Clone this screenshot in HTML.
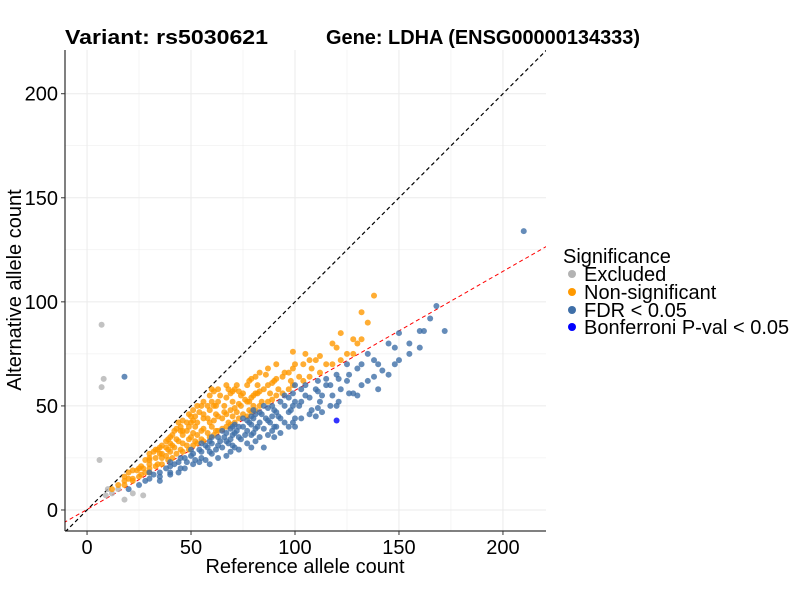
<!DOCTYPE html>
<html><head><meta charset="utf-8"><style>
body{margin:0;background:#fff;font-family:"Liberation Sans",Arial,sans-serif}
svg text{font-family:"Liberation Sans",Arial,sans-serif}
</style></head><body>
<svg id="chart" width="800" height="600" viewBox="0 0 800 600" xmlns="http://www.w3.org/2000/svg">
<g id="grid"></g>
<g id="lines"></g>
<g id="points"></g>
<g id="axes"></g>
<text x="65" y="44" font-size="20" font-weight="bold" textLength="203" lengthAdjust="spacingAndGlyphs">Variant: rs5030621</text>
<text x="326" y="44" font-size="20" font-weight="bold" textLength="314" lengthAdjust="spacingAndGlyphs">Gene: LDHA (ENSG00000134333)</text>
<text x="305" y="573" font-size="20" text-anchor="middle">Reference allele count</text>
<text transform="translate(21,290) rotate(-90)" font-size="20" text-anchor="middle">Alternative allele count</text>
<g>
<text x="563" y="263" font-size="20">Significance</text>
<g><circle cx="572" cy="274" r="4" fill="#b3b3b3"/><text x="584" y="281" font-size="20">Excluded</text></g>
<g><circle cx="572" cy="292" r="4" fill="#ff9900"/><text x="584" y="299" font-size="20">Non-significant</text></g>
<g><circle cx="572" cy="310" r="4" fill="#3f6fa8"/><text x="584" y="317" font-size="20">FDR &lt; 0.05</text></g>
<g><circle cx="572" cy="327" r="4" fill="#0000ff"/><text x="584" y="334" font-size="20">Bonferroni P-val &lt; 0.05</text></g>
</g>
</svg>
<script>
const xTicks=[0,50,100,150,200];
const yTicks=[0,50,100,150,200];
const oRef=[12,15,18,20,22,25,25,28,30,30,32,34,35,36,38,38,40,40,42,42,44,45,45,46,48,48,50,50,52,52,54,55,55,56,58,58,60,60,62,62,64,65,65,66,68,68,70,70,72,72,74,75,75,76,78,78,80,80,82,84,85,86,88,90,92,95,98,100,102,105,108,110,115,120,125,130,135,138,60,55,50,45,40,35,48,52,58,62,66,70,74,78,82,44,38,34,30,27,24,20];
const oAlt=[10,12,14,18,15,20,16,24,22,18,28,22,30,25,33,26,35,28,38,30,33,40,29,36,42,31,45,35,40,33,47,38,34,44,50,37,52,40,46,38,55,44,39,50,58,42,52,45,60,47,50,56,46,53,62,48,55,50,60,52,58,65,56,62,58,66,62,70,64,75,68,72,70,78,75,80,90,103,58,50,42,38,32,27,38,45,44,50,47,57,55,52,56,42,30,29,25,20,19,15];
const oRef2=[30,30,30,33,33,33,36,36,36,39,39,39,41,41,41,43,43,43,46,46,46,46,49,49,49,49,51,51,51,51,53,53,53,53,56,56,56,56,59,59,59,59,61,61,61,61,63,63,63,63,67,67,67,67,69,69,69,71,71,71,73,73,73,77,77,77,79,79,79,81,81,81,83,83,83,87,87,87,89,89,91,91,91,94,94,97,97,99,99,99,104,104,107,107,112,112,118,118,122,122,128,128,132,132,18,18,22,22,26,26,28];
const oAlt2=[20,24,27,21,25,29,22,27,31,24,29,34,25,31,36,27,34,39,28,32,38,43,29,34,40,46,31,37,43,48,32,36,42,50,33,39,46,52,35,42,48,55,36,43,50,57,38,45,52,58,40,46,54,60,41,48,56,42,49,58,44,51,57,45,52,60,47,54,63,48,56,64,50,57,66,52,60,68,53,61,55,63,70,56,64,58,66,60,68,76,62,70,64,72,66,74,70,80,72,85,75,82,82,95,12,16,14,19,17,21,18];
const bRef=[20,25,28,30,32,35,38,40,42,45,45,48,50,52,55,55,58,60,60,62,64,65,66,68,70,70,72,74,75,76,78,80,80,82,84,85,86,88,90,90,92,95,95,98,100,100,102,105,108,110,112,115,118,120,122,125,128,130,135,140,145,150,155,160,165,168,172,160,155,145,135,125,115,105,95,85,75,65,55,18,210,85,90,100,110,120,130,140,100,80,70,60,50,40,30,150,162];
const bAlt=[10,12,14,15,17,16,20,18,22,20,25,23,26,24,28,25,30,27,32,29,33,30,35,32,36,31,38,34,40,36,42,37,44,40,46,39,44,42,48,40,45,50,42,48,52,44,50,55,48,58,52,60,55,65,58,62,56,68,62,70,65,72,80,86,92,98,86,78,75,80,75,70,63,60,55,50,44,38,32,64,134,30,35,40,45,50,55,58,60,48,40,35,29,23,18,85,86];
const bRef2=[35,35,40,40,44,44,47,47,51,51,54,54,57,57,59,59,59,63,63,63,67,67,67,69,69,69,71,71,71,73,73,73,77,77,77,79,79,79,79,81,81,81,83,83,83,87,87,87,89,89,89,91,91,93,93,93,97,97,97,99,99,99,103,103,103,107,107,111,111,111,113,113,117,117,121,121,126,126,132,132,138,138,142,148,148];
const bAlt2=[14,18,17,21,18,23,20,25,22,27,23,29,24,31,22,28,33,25,31,35,26,33,37,28,34,39,30,37,41,29,35,40,32,38,43,30,36,41,45,33,39,46,35,42,47,36,43,49,38,45,50,40,47,37,44,52,40,47,54,42,50,56,44,52,58,46,54,49,57,62,47,55,50,60,52,63,56,65,60,70,64,72,67,70,78];
const gRef=[7,8,7,6,10,12,18,22,27,15,9];
const gAlt=[89,63,59,24,10,8,5,8,7,10,7];
const bfRef=[120];
const bfAlt=[43];
const X0=65,X1=546,Y0=531,Y1=50,xmin=-10.6,xmax=220.7,ymin=-10.1,ymax=221;
const sx=v=>X0+(v-xmin)/(xmax-xmin)*(X1-X0);
const sy=v=>Y0-(v-ymin)/(ymax-ymin)*(Y0-Y1);
const NS="http://www.w3.org/2000/svg";
function mk(tag,attrs,parent){const e=document.createElementNS(NS,tag);for(const k in attrs)e.setAttribute(k,attrs[k]);parent.appendChild(e);return e;}
const grid=document.getElementById('grid'),axes=document.getElementById('axes'),pts=document.getElementById('points'),lines=document.getElementById('lines');
for(let v=0;v<=200;v+=25){
 const w=v%50===0?1:0.5;
 const gx=mk('line',{x1:sx(v),x2:sx(v),y1:Y1,y2:Y0,stroke:'#ebebeb','stroke-width':w},grid);
 
 
 const gy=mk('line',{x1:X0,x2:X1,y1:sy(v),y2:sy(v),stroke:'#ebebeb','stroke-width':w},grid);
 
 
}
const clip=mk('clipPath',{id:'pc'},document.getElementById('chart'));
mk('rect',{x:X0,y:Y1,width:X1-X0,height:Y0-Y1},clip);
lines.setAttribute('clip-path','url(#pc)');
const l1=mk('line',{x1:sx(-20),y1:sy(-20),x2:sx(240),y2:sy(240),stroke:'#000','stroke-width':1.2,'stroke-dasharray':'4,3'},lines);


const l2=mk('line',{x1:sx(-20),y1:sy(-20*0.572+0.26),x2:sx(240),y2:sy(240*0.572+0.26),stroke:'#ff0000','stroke-width':1,'stroke-dasharray':'4,3'},lines);


function draw(rs,as,col,name){for(let i=0;i<rs.length;i++){const c=mk('circle',{cx:sx(rs[i]),cy:sy(as[i]),r:3,fill:col,'fill-opacity':0.8},pts);
 
 }}
draw(gRef,gAlt,'#b3b3b3','point-excluded');
draw(oRef,oAlt,'#ff9900','point-non-significant');
draw(oRef2,oAlt2,'#ff9900','point-non-significant');
draw(bRef,bAlt,'#3f6fa8','point-fdr');
draw(bRef2,bAlt2,'#3f6fa8','point-fdr');
draw(bfRef,bfAlt,'#0000ff','point-bonferroni');
const ax=mk('line',{x1:X0,x2:X0,y1:Y1,y2:Y0,stroke:'#000','stroke-width':1},axes);


const ax2=mk('line',{x1:X0,x2:X1,y1:Y0,y2:Y0,stroke:'#000','stroke-width':1},axes);


xTicks.forEach(v=>{mk('line',{x1:sx(v),x2:sx(v),y1:Y0,y2:Y0+4,stroke:'#333'},axes);
 const t=mk('text',{x:sx(v),y:Y0+23,'font-size':20,'text-anchor':'middle',fill:'#000'},axes);t.textContent=v;
 
 });
yTicks.forEach(v=>{mk('line',{x1:X0-4,x2:X0,y1:sy(v),y2:sy(v),stroke:'#333'},axes);
 const t=mk('text',{x:X0-7,y:sy(v)+7,'font-size':20,'text-anchor':'end',fill:'#000'},axes);t.textContent=v;
 
 });
</script>
</body></html>
